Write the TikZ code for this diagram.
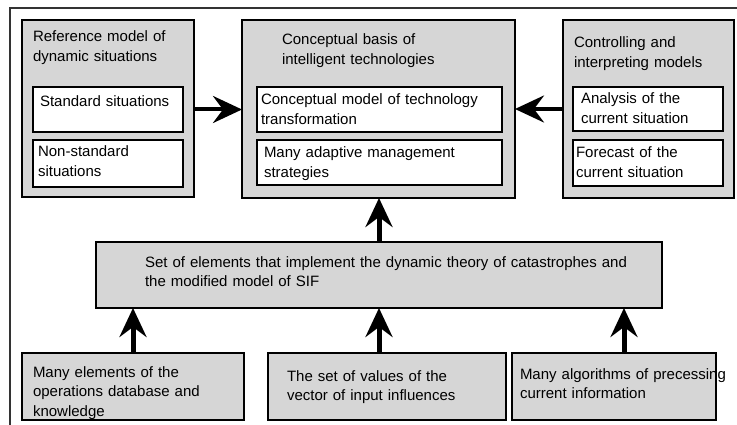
\documentclass[tikz,border=0pt]{standalone}
\usepackage{fontspec}
\setmainfont{Liberation Sans}
\usetikzlibrary{arrows.meta}
\definecolor{boxgray}{HTML}{D6D6D6}
\definecolor{framegray}{HTML}{333333}
\begin{document}
\begin{tikzpicture}[x=1pt,y=-1pt,
 graybox/.style={draw=black, line width=2.6pt, fill=boxgray, anchor=north west, inner sep=0pt, outer sep=0pt},
 whitebox/.style={draw=black, line width=2.8pt, fill=white, anchor=north west, inner sep=0pt, outer sep=0pt},
 txt/.style={anchor=base west, inner sep=0pt, outer sep=0pt, align=left, text width=#1, font=\fontsize{15}{19.5}\selectfont},
 txt/.default=300pt,
 arr/.style={draw=black, line width=4pt, -{Stealth[length=29pt,width=27pt,inset=10pt]}},
 varr/.style={arr, line width=5pt}
]
\useasboundingbox (0,0) rectangle (737,425);
\fill[white] (0,0) rectangle (737,425);
% outer frame
\draw[framegray, line width=2pt] (10,425) -- (10,8) -- (737,8);

% boxes
\node[graybox, minimum width=172pt, minimum height=177pt] (L) at (22,20) {};
\node[whitebox, minimum width=150pt, minimum height=45pt] (L1) at (33,87) {};
\node[whitebox, minimum width=150pt, minimum height=47pt] (L2) at (33,140) {};

\node[graybox, minimum width=273pt, minimum height=178pt] (C) at (242,20) {};
\node[whitebox, minimum width=245pt, minimum height=45pt] (C1) at (257,87) {};
\node[whitebox, minimum width=245pt, minimum height=45pt] (C2) at (257,140) {};

\node[graybox, minimum width=171pt, minimum height=178pt] (R) at (563,20) {};
\node[whitebox, minimum width=150pt, minimum height=44pt] (R1) at (573,87) {};
\node[whitebox, minimum width=150pt, minimum height=46pt] (R2) at (573,140) {};

\node[graybox, minimum width=566pt, minimum height=66pt] (M) at (96,242) {};

\node[graybox, minimum width=222pt, minimum height=67pt] (B1) at (22,353) {};
\node[graybox, minimum width=238pt, minimum height=67pt] (B2) at (268,353) {};
\node[graybox, minimum width=204pt, minimum height=67pt] (B3) at (512,353) {};

% texts
\node[txt] (Lt) at (33,42) {Reference model of\\dynamic situations};
\node[txt] (L1t) at (40,107) {Standard situations};
\node[txt] (L2t) at (38,157) {Non-standard\\situations};

\node[txt] (Ct) at (282,45) {Conceptual basis of\\intelligent technologies};
\node[txt] (C1t) at (261,105) {Conceptual model of technology\\transformation};
\node[txt] (C2t) at (264,158) {Many adaptive management\\strategies};

\node[txt] (Rt) at (574,48) {Controlling and\\interpreting models};
\node[txt] (R1t) at (581,104) {Analysis of the\\current situation};
\node[txt] (R2t) at (576,158) {Forecast of the\\current situation};

\node[txt=520pt] (Mt) at (145,267) {Set of elements that implement the dynamic theory of catastrophes and\\the modified model of SIF};

\node[txt] (B1t) at (33,377) {Many elements of the\\operations database and\\knowledge};
\node[txt] (B2t) at (287,381) {The set of values of the\\vector of input influences};
\node[txt] (B3t) at (520,379) {Many algorithms of precessing\\current information};

% connectors
\draw[arr] (L.east |- L1.center) -- (C.west |- L1.center);
\draw[arr] (R.west |- R1.center) -- (C.east |- R1.center);
\draw[varr] (M.north) -- (M.north |- C.south);
\draw[varr] (B1.north) -- (B1.north |- M.south);
\draw[varr] (B2.north -| M.south) -- (M.south);
\draw[varr] ([xshift=10pt]B3.north) -- ([xshift=10pt]B3.north |- M.south);
\end{tikzpicture}
\end{document}
